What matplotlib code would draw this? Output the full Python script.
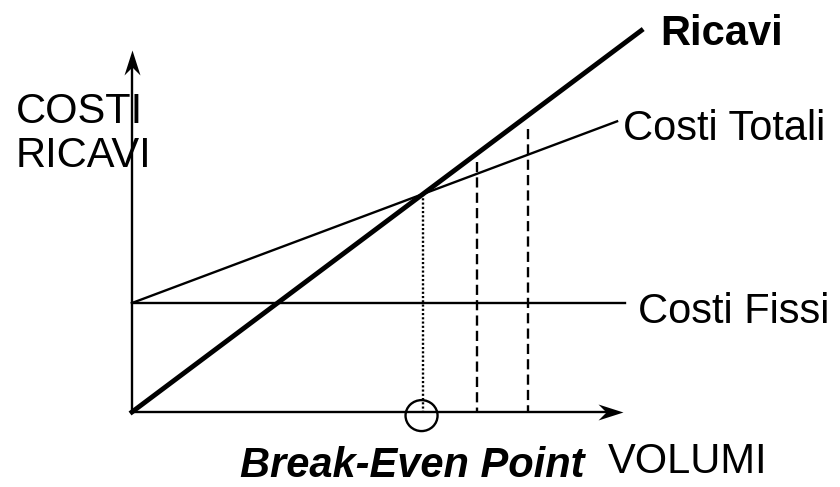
"""
Break-even chart: ricavi, costi fissi e costi totali in funzione dei volumi.
"""

import matplotlib
matplotlib.use("Agg")
import matplotlib.pyplot as plt
from matplotlib.patches import Ellipse
from matplotlib.path import Path

plt.rcParams["font.family"] = ["Liberation Sans", "DejaVu Sans"]

# --- data (volumi / euro, arbitrary units) ---
ricavi_q = [0.0, 17.5]
ricavi_val = [0.0, 35.0]
totali_q = [0.0, 16.67]
totali_val = [10.0, 26.67]
fissi_q = [0.0, 16.95]
fissi_val = [10.0, 10.0]
bep_q = 10.0
bep_val = 20.0
dashed_q = [11.86, 13.6]
dashed_top = [22.9, 26.0]
x_axis_end = 16.87
y_axis_end = 33.2

LW = 1.7
INK = "black"


def arrow_marker(direction):
    # notched arrow head, tip at the origin
    if direction == "right":
        verts = [(0, 0), (-1, 0.32), (-0.68, 0), (-1, -0.32), (0, 0)]
    else:
        verts = [(0, 0), (0.32, -1), (0, -0.68), (-0.32, -1), (0, 0)]
    codes = [Path.MOVETO] + [Path.LINETO] * 3 + [Path.CLOSEPOLY]
    return Path(verts, codes)


def main():
    fig = plt.figure(figsize=(8.4, 4.87), dpi=100)
    ax = fig.add_axes([0, 0, 1, 1])
    ax.set_xlim(-4.536, 24.33)
    ax.set_ylim(-6.881, 37.80)
    ax.axis("off")

    # axes with arrows
    ax.plot([0, 0], [0, y_axis_end - 1.2], color=INK, lw=LW, solid_capstyle="butt")
    ax.plot([0, x_axis_end - 0.4], [0, 0], color=INK, lw=LW, solid_capstyle="butt")
    ax.plot([0], [y_axis_end], marker=arrow_marker("up"), ms=36, color=INK, mew=0)
    ax.plot([x_axis_end], [0], marker=arrow_marker("right"), ms=36, color=INK, mew=0)

    # cost and revenue lines
    ax.plot(fissi_q, fissi_val, color=INK, lw=LW)
    ax.plot(totali_q, totali_val, color=INK, lw=LW)
    ax.plot(ricavi_q, ricavi_val, color=INK, lw=3.5, solid_capstyle="projecting")

    # break-even guide and circle
    ax.plot([bep_q, bep_q], [bep_val, 0], color=INK, lw=LW, linestyle=(0, (0.9, 0.9)))
    ax.add_patch(Ellipse((bep_q - 0.05, -0.33), width=1.1, height=2.84,
                         facecolor="none", edgecolor=INK, lw=LW))

    for q, top in zip(dashed_q, dashed_top):
        ax.plot([q, q], [top, 0], color=INK, lw=LW, linestyle=(0, (4.3, 2.2)))

    # labels
    fs = 30
    ax.text(18.15, 33.67, "Ricavi", fontsize=fs, fontweight="bold", va="baseline")
    ax.text(16.88, 24.95, "Costi Totali", fontsize=fs, va="baseline")
    ax.text(17.40, 8.17, "Costi Fissi", fontsize=fs, va="baseline")
    ax.text(-4.0, 26.51, "COSTI", fontsize=fs, va="baseline")
    ax.text(-4.0, 22.48, "RICAVI", fontsize=fs, va="baseline")
    ax.text(16.36, -5.6, "VOLUMI", fontsize=fs, va="baseline")
    ax.text(3.72, -5.95, "Break-Even Point", fontsize=fs, fontweight="bold",
            fontstyle="italic", va="baseline")

    fig.savefig("out.png", dpi=100, facecolor="white")
    plt.close(fig)


if __name__ == "__main__":
    main()
